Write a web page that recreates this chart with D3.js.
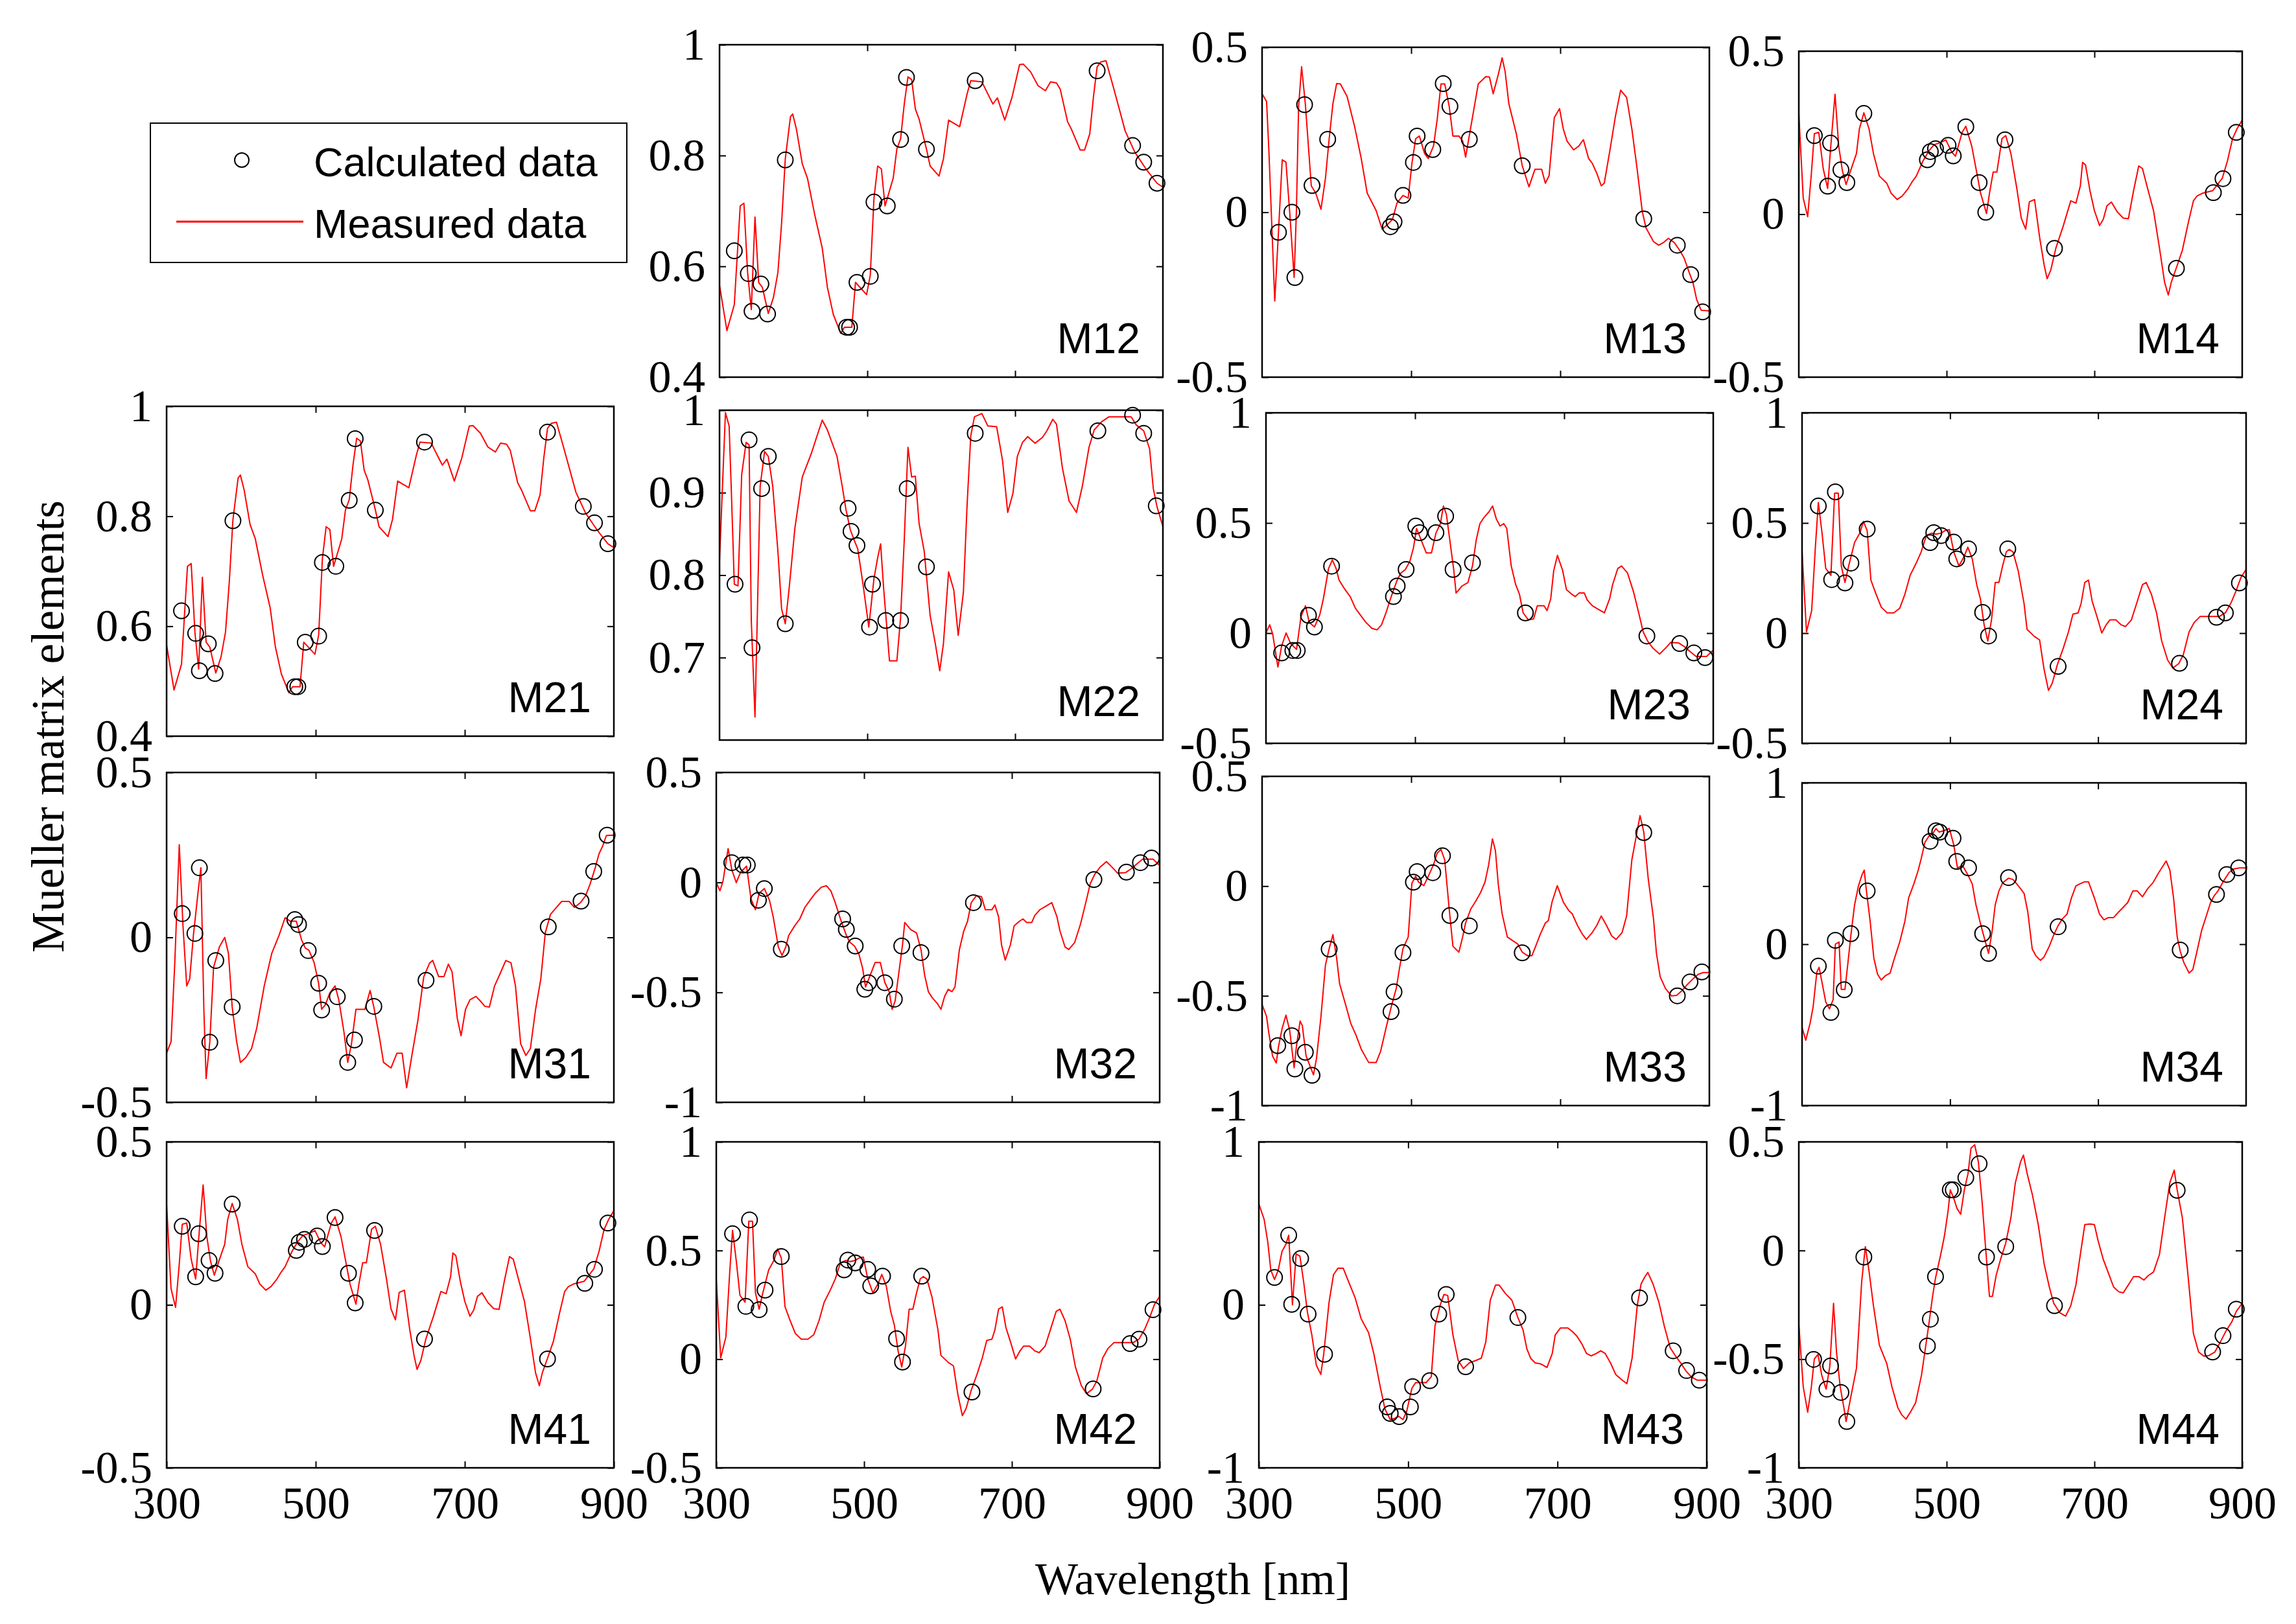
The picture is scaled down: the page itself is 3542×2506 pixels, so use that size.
<!DOCTYPE html>
<html>
<head>
<meta charset="utf-8">
<script src="https://cdn.jsdelivr.net/npm/d3@7"></script>
<style>
html, body { margin: 0; padding: 0; background: #fff; }
svg { display: block; }
</style>
</head>
<body>
<svg id="chart" width="3542" height="2506"></svg>
<script>
// ---- data (wavelength nm, value) ----
const panelNames = ["M12", "M13", "M14", "M21", "M22", "M23", "M24", "M31", "M32", "M33", "M34", "M41", "M42", "M43", "M44"];
const xTickValues = [300, 500, 700, 900];

const yDomains = {
    M12: [0.4, 1], M13: [-0.5, 0.5], M14: [-0.5, 0.5],
    M21: [0.4, 1], M22: [0.6, 1], M23: [-0.5, 1], M24: [-0.5, 1],
    M31: [-0.5, 0.5], M32: [-1, 0.5], M33: [-1, 0.5], M34: [-1, 1],
    M41: [-0.5, 0.5], M42: [-0.5, 1], M43: [-1, 1], M44: [-1, 0.5]
};
const yTickValues = {
    M12: [0.4, 0.6, 0.8, 1], M13: [-0.5, 0, 0.5], M14: [-0.5, 0, 0.5],
    M21: [0.4, 0.6, 0.8, 1], M22: [0.7, 0.8, 0.9, 1], M23: [-0.5, 0, 0.5, 1], M24: [-0.5, 0, 0.5, 1],
    M31: [-0.5, 0, 0.5], M32: [-1, -0.5, 0, 0.5], M33: [-1, -0.5, 0, 0.5], M34: [-1, 0, 1],
    M41: [-0.5, 0, 0.5], M42: [-0.5, 0, 0.5, 1], M43: [-1, 0, 1], M44: [-1, -0.5, 0, 0.5]
};

const m12Line = [[300,0.566],[310,0.484],[320,0.531],[328,0.709],[333,0.714],[338,0.589],[343,0.522],[348,0.689],[353,0.571],[358,0.562],[366,0.515],[373,0.544],[379,0.589],[384,0.678],[389,0.794],[396,0.870],[399,0.875],[404,0.848],[412,0.785],[419,0.759],[429,0.692],[439,0.633],[446,0.562],[454,0.513],[464,0.479],[469,0.490],[479,0.490],[484,0.571],[499,0.549],[504,0.584],[509,0.723],[514,0.781],[519,0.776],[524,0.709],[535,0.759],[540,0.812],[545,0.830],[550,0.893],[555,0.942],[560,0.937],[565,0.884],[570,0.866],[575,0.839],[580,0.812],[585,0.781],[597,0.763],[603,0.794],[610,0.864],[625,0.852],[635,0.911],[640,0.935],[655,0.933],[665,0.906],[670,0.893],[676,0.904],[686,0.864],[696,0.906],[706,0.964],[711,0.965],[721,0.951],[731,0.926],[741,0.917],[748,0.933],[756,0.931],[761,0.920],[771,0.861],[776,0.848],[788,0.810],[794,0.810],[801,0.839],[806,0.906],[811,0.960],[816,0.969],[823,0.971],[832,0.928],[842,0.879],[849,0.844],[862,0.806],[877,0.776],[892,0.750],[900,0.743]];
const m12Calc = [[320,0.628],[339,0.587],[344,0.519],[356,0.568],[365,0.514],[389,0.792],[472,0.490],[476,0.490],[486,0.571],[504,0.582],[509,0.716],[527,0.709],[545,0.829],[553,0.941],[580,0.811],[646,0.935],[811,0.953],[859,0.818],[874,0.788],[892,0.750]];

const m13Line = [[300,0.359],[306,0.336],[309,0.193],[317,-0.269],[322,-0.059],[327,0.159],[332,0.152],[337,0.002],[343,-0.198],[346,0.0],[349,0.321],[353,0.441],[358,0.329],[366,0.080],[372,0.058],[379,0.009],[385,0.103],[390,0.223],[395,0.329],[400,0.390],[405,0.389],[414,0.351],[424,0.261],[433,0.163],[441,0.058],[453,0.005],[461,-0.051],[467,-0.040],[475,-0.021],[481,0.028],[489,0.051],[496,0.043],[501,0.148],[506,0.223],[511,0.231],[518,0.178],[523,0.163],[530,0.201],[535,0.283],[540,0.389],[545,0.389],[551,0.321],[556,0.231],[564,0.231],[569,0.216],[573,0.167],[583,0.298],[590,0.389],[600,0.411],[605,0.410],[610,0.359],[617,0.419],[622,0.468],[626,0.427],[631,0.329],[641,0.238],[649,0.141],[658,0.077],[666,0.130],[675,0.130],[680,0.088],[685,0.111],[692,0.287],[699,0.314],[704,0.253],[709,0.216],[718,0.189],[725,0.201],[731,0.220],[738,0.163],[743,0.148],[749,0.118],[755,0.080],[759,0.088],[767,0.193],[774,0.291],[781,0.370],[789,0.348],[796,0.253],[803,0.133],[810,0.002],[815,-0.047],[825,-0.089],[832,-0.100],[839,-0.091],[845,-0.079],[853,-0.092],[860,-0.115],[866,-0.138],[873,-0.183],[878,-0.213],[883,-0.265],[889,-0.297],[900,-0.299]];
const m13Calc = [[322,-0.061],[340,0.0],[344,-0.198],[357,0.326],[367,0.081],[388,0.221],[472,-0.044],[477,-0.029],[489,0.051],[503,0.151],[508,0.231],[529,0.190],[543,0.390],[552,0.321],[578,0.221],[649,0.141],[812,-0.020],[857,-0.100],[875,-0.189],[891,-0.302]];

const m14Line = [[300,0.308],[306,0.049],[312,-0.008],[317,0.125],[321,0.247],[327,0.251],[333,0.140],[339,0.079],[343,0.201],[349,0.368],[354,0.209],[359,0.133],[364,0.091],[370,0.133],[378,0.186],[382,0.262],[388,0.311],[395,0.262],[401,0.186],[409,0.117],[419,0.095],[425,0.064],[433,0.045],[440,0.056],[448,0.079],[453,0.098],[459,0.117],[468,0.163],[476,0.194],[483,0.213],[492,0.220],[499,0.228],[507,0.190],[512,0.178],[521,0.251],[526,0.270],[534,0.209],[541,0.125],[546,0.064],[554,0.002],[558,0.064],[563,0.129],[568,0.129],[575,0.232],[580,0.241],[587,0.186],[595,0.079],[601,-0.012],[607,-0.046],[612,0.038],[619,0.045],[626,-0.073],[632,-0.156],[636,-0.198],[641,-0.171],[648,-0.103],[658,-0.035],[668,0.041],[675,0.034],[681,0.087],[684,0.159],[688,0.151],[694,0.072],[700,0.011],[707,-0.035],[712,-0.016],[717,0.026],[723,0.037],[731,0.007],[739,-0.012],[746,-0.014],[753,0.072],[760,0.148],[765,0.140],[772,0.079],[780,0.011],[788,-0.103],[795,-0.209],[800,-0.248],[804,-0.209],[811,-0.164],[819,-0.111],[827,-0.027],[834,0.041],[839,0.056],[846,0.064],[853,0.068],[860,0.072],[868,0.095],[873,0.110],[880,0.163],[887,0.232],[893,0.262],[900,0.289]];
const m14Calc = [[321,0.241],[339,0.086],[343,0.218],[357,0.136],[365,0.097],[388,0.309],[474,0.167],[478,0.192],[485,0.201],[502,0.211],[509,0.179],[526,0.268],[544,0.097],[553,0.006],[579,0.228],[646,-0.105],[811,-0.166],[861,0.066],[874,0.109],[892,0.251]];

const m22Line = [[300,0.818],[303,0.885],[308,0.997],[313,0.981],[316,0.902],[320,0.789],[325,0.787],[330,0.922],[336,0.961],[340,0.958],[343,0.745],[348,0.628],[351,0.745],[355,0.908],[361,0.950],[366,0.944],[372,0.908],[379,0.829],[384,0.759],[389,0.741],[394,0.782],[402,0.857],[412,0.919],[424,0.947],[432,0.969],[439,0.988],[446,0.976],[459,0.944],[466,0.908],[471,0.880],[477,0.855],[482,0.843],[487,0.832],[494,0.790],[502,0.737],[509,0.796],[514,0.821],[518,0.838],[522,0.785],[526,0.741],[530,0.696],[540,0.696],[545,0.748],[550,0.843],[555,0.955],[560,0.919],[565,0.920],[570,0.863],[577,0.829],[585,0.751],[592,0.717],[598,0.684],[603,0.717],[610,0.804],[617,0.782],[623,0.727],[630,0.779],[635,0.885],[640,0.969],[645,0.992],[655,0.996],[663,0.981],[675,0.980],[683,0.939],[690,0.876],[697,0.899],[703,0.944],[710,0.961],[717,0.968],[727,0.960],[737,0.967],[743,0.975],[751,0.989],[756,0.983],[764,0.930],[773,0.890],[783,0.876],[791,0.908],[800,0.955],[807,0.976],[817,0.986],[827,0.992],[857,0.992],[864,0.982],[874,0.975],[882,0.953],[887,0.905],[892,0.883],[900,0.859]];
const m22Calc = [[321,0.789],[340,0.964],[344,0.712],[357,0.905],[366,0.944],[389,0.741],[474,0.881],[478,0.853],[486,0.836],[503,0.737],[507,0.789],[525,0.745],[545,0.745],[554,0.905],[580,0.810],[646,0.972],[812,0.975],[859,0.994],[874,0.972],[891,0.884]];

const m23Line = [[300,0.001],[305,0.038],[309,-0.004],[316,-0.154],[321,-0.058],[327,0.001],[333,-0.047],[341,-0.074],[347,0.076],[353,0.124],[358,0.049],[365,0.028],[372,0.081],[377,0.156],[384,0.294],[389,0.332],[394,0.294],[398,0.241],[406,0.198],[413,0.166],[420,0.113],[428,0.076],[434,0.049],[442,0.022],[449,0.015],[455,0.038],[461,0.092],[468,0.166],[476,0.241],[481,0.273],[487,0.289],[493,0.326],[498,0.390],[502,0.475],[507,0.433],[515,0.364],[522,0.364],[528,0.454],[534,0.497],[538,0.577],[542,0.539],[547,0.412],[552,0.284],[555,0.182],[563,0.214],[571,0.230],[577,0.305],[582,0.422],[587,0.497],[592,0.523],[599,0.550],[604,0.577],[609,0.518],[614,0.486],[619,0.497],[623,0.475],[629,0.305],[635,0.220],[640,0.177],[645,0.092],[652,0.060],[659,0.065],[664,0.124],[673,0.124],[677,0.102],[682,0.156],[686,0.284],[691,0.353],[698,0.284],[703,0.198],[710,0.177],[715,0.166],[720,0.182],[727,0.182],[731,0.150],[738,0.124],[746,0.108],[754,0.092],[761,0.156],[765,0.220],[772,0.294],[777,0.305],[785,0.273],[793,0.188],[800,0.092],[806,0.006],[812,-0.036],[819,-0.068],[828,-0.095],[836,-0.068],[843,-0.042],[854,-0.045],[862,-0.063],[869,-0.084],[877,-0.106],[891,-0.106],[900,-0.077]];
const m23Calc = [[321,-0.090],[336,-0.079],[342,-0.079],[357,0.081],[365,0.028],[388,0.304],[471,0.166],[476,0.214],[488,0.289],[501,0.486],[506,0.456],[528,0.456],[541,0.531],[551,0.289],[577,0.319],[648,0.092],[811,-0.013],[855,-0.047],[874,-0.090],[889,-0.111]];

const m24Line = [[300,0.369],[306,0.006],[313,0.102],[318,0.390],[322,0.593],[327,0.454],[332,0.294],[339,0.262],[344,0.635],[349,0.635],[353,0.305],[358,0.230],[363,0.305],[371,0.412],[378,0.454],[383,0.507],[388,0.465],[393,0.241],[400,0.177],[407,0.118],[415,0.092],[424,0.092],[432,0.113],[439,0.177],[446,0.262],[454,0.316],[461,0.369],[468,0.443],[475,0.454],[481,0.449],[488,0.454],[493,0.465],[499,0.470],[505,0.369],[512,0.305],[519,0.348],[524,0.390],[530,0.337],[536,0.220],[541,0.156],[546,0.038],[551,-0.036],[556,0.060],[561,0.230],[566,0.230],[571,0.305],[576,0.369],[580,0.380],[585,0.369],[592,0.284],[600,0.134],[604,0.017],[614,-0.015],[621,-0.031],[627,-0.164],[633,-0.260],[638,-0.228],[645,-0.143],[653,-0.068],[660,0.006],[666,0.086],[673,0.092],[677,0.134],[682,0.230],[687,0.241],[692,0.145],[699,0.070],[705,0.001],[711,0.038],[716,0.060],[724,0.060],[731,0.038],[737,0.030],[745,0.060],[752,0.134],[760,0.220],[765,0.230],[772,0.177],[779,0.092],[786,-0.036],[794,-0.122],[801,-0.159],[809,-0.138],[815,-0.100],[823,0.006],[830,0.049],[838,0.076],[852,0.076],[864,0.076],[872,0.092],[880,0.140],[886,0.188],[893,0.252],[900,0.289]];
const m24Calc = [[322,0.577],[340,0.243],[345,0.641],[358,0.228],[366,0.318],[388,0.472],[473,0.411],[478,0.456],[488,0.443],[505,0.413],[509,0.337],[525,0.382],[544,0.094],[552,-0.013],[578,0.382],[646,-0.151],[810,-0.137],[860,0.072],[872,0.092],[891,0.228]];

const m31Line = [[300,-0.351],[306,-0.316],[311,-0.077],[317,0.281],[322,0.035],[327,-0.147],[331,-0.126],[336,0.007],[342,0.133],[346,0.211],[350,-0.218],[353,-0.428],[358,-0.316],[363,-0.091],[371,-0.028],[378,0.0],[383,-0.049],[388,-0.211],[394,-0.316],[399,-0.379],[406,-0.365],[414,-0.337],[421,-0.274],[431,-0.147],[441,-0.049],[451,0.007],[459,0.060],[466,0.049],[474,0.049],[481,-0.007],[486,-0.032],[491,-0.039],[498,-0.077],[504,-0.140],[508,-0.218],[513,-0.204],[519,-0.168],[526,-0.147],[531,-0.189],[538,-0.288],[543,-0.379],[548,-0.323],[554,-0.218],[566,-0.218],[573,-0.161],[578,-0.211],[586,-0.309],[591,-0.379],[601,-0.396],[609,-0.351],[616,-0.351],[622,-0.456],[629,-0.358],[637,-0.253],[645,-0.119],[653,-0.077],[657,-0.070],[665,-0.119],[672,-0.119],[678,-0.081],[683,-0.105],[690,-0.246],[695,-0.298],[701,-0.218],[707,-0.189],[715,-0.179],[721,-0.193],[727,-0.209],[733,-0.211],[740,-0.147],[747,-0.112],[755,-0.070],[762,-0.077],[768,-0.147],[775,-0.323],[782,-0.358],[788,-0.337],[795,-0.218],[802,-0.126],[808,0.014],[815,0.070],[823,0.091],[830,0.109],[840,0.109],[847,0.091],[855,0.105],[862,0.126],[868,0.161],[875,0.211],[880,0.253],[885,0.277],[890,0.309],[900,0.310]];
const m31Calc = [[321,0.072],[338,0.012],[344,0.211],[358,-0.318],[366,-0.070],[388,-0.211],[472,0.054],[477,0.039],[490,-0.040],[504,-0.139],[508,-0.220],[529,-0.180],[543,-0.379],[552,-0.311],[578,-0.209],[648,-0.130],[812,0.032],[856,0.110],[873,0.200],[891,0.310]];

const m32Line = [[300,-0.001],[305,-0.038],[309,0.004],[316,0.154],[321,0.058],[327,-0.001],[333,0.047],[341,0.074],[347,-0.076],[353,-0.124],[358,-0.049],[365,-0.028],[372,-0.081],[377,-0.156],[384,-0.294],[389,-0.332],[394,-0.294],[398,-0.241],[406,-0.198],[413,-0.166],[420,-0.113],[428,-0.076],[434,-0.049],[442,-0.022],[449,-0.015],[455,-0.038],[461,-0.092],[468,-0.166],[476,-0.241],[481,-0.273],[487,-0.289],[493,-0.326],[498,-0.390],[502,-0.475],[507,-0.433],[515,-0.364],[522,-0.364],[528,-0.454],[534,-0.497],[538,-0.577],[542,-0.539],[547,-0.412],[552,-0.284],[555,-0.182],[563,-0.214],[571,-0.230],[577,-0.305],[582,-0.422],[587,-0.497],[592,-0.523],[599,-0.550],[604,-0.577],[609,-0.518],[614,-0.486],[619,-0.497],[623,-0.475],[629,-0.305],[635,-0.220],[640,-0.177],[645,-0.092],[652,-0.060],[659,-0.065],[664,-0.124],[673,-0.124],[677,-0.102],[682,-0.156],[686,-0.284],[691,-0.353],[698,-0.284],[703,-0.198],[710,-0.177],[715,-0.166],[720,-0.182],[727,-0.182],[731,-0.150],[738,-0.124],[746,-0.108],[754,-0.092],[761,-0.156],[765,-0.220],[772,-0.294],[777,-0.305],[785,-0.273],[793,-0.188],[800,-0.092],[806,-0.006],[812,0.036],[819,0.068],[828,0.095],[836,0.068],[843,0.042],[854,0.045],[862,0.063],[869,0.084],[877,0.106],[891,0.106],[900,0.077]];
const m32Calc = [[321,0.090],[336,0.079],[342,0.079],[357,-0.081],[365,-0.028],[388,-0.304],[471,-0.166],[476,-0.214],[488,-0.289],[501,-0.486],[506,-0.456],[528,-0.456],[541,-0.531],[551,-0.289],[577,-0.319],[648,-0.092],[811,0.013],[855,0.047],[874,0.090],[889,0.111]];

const m33Line = [[300,-0.540],[306,-0.594],[309,-0.668],[314,-0.774],[319,-0.806],[322,-0.732],[327,-0.647],[332,-0.588],[337,-0.657],[343,-0.828],[346,-0.732],[351,-0.615],[354,-0.636],[359,-0.774],[364,-0.817],[369,-0.860],[373,-0.785],[379,-0.594],[385,-0.360],[390,-0.285],[395,-0.221],[400,-0.328],[404,-0.445],[412,-0.540],[419,-0.626],[426,-0.679],[433,-0.743],[443,-0.804],[453,-0.804],[459,-0.753],[467,-0.636],[474,-0.540],[480,-0.466],[484,-0.381],[489,-0.285],[496,-0.232],[501,0.013],[506,0.045],[510,0.018],[517,0.002],[523,0.045],[530,0.098],[535,0.151],[540,0.167],[545,0.119],[551,-0.104],[556,-0.274],[564,-0.301],[569,-0.232],[573,-0.168],[580,-0.104],[586,-0.072],[593,-0.030],[599,0.018],[604,0.098],[609,0.215],[613,0.162],[617,0.002],[622,-0.126],[629,-0.232],[636,-0.248],[643,-0.264],[649,-0.301],[656,-0.317],[662,-0.317],[667,-0.274],[673,-0.221],[680,-0.168],[684,-0.157],[689,-0.072],[696,0.002],[704,-0.072],[711,-0.110],[716,-0.126],[723,-0.179],[730,-0.221],[735,-0.243],[743,-0.211],[749,-0.179],[755,-0.136],[762,-0.179],[769,-0.227],[775,-0.243],[783,-0.211],[789,-0.136],[796,0.119],[803,0.247],[807,0.321],[812,0.247],[818,0.034],[825,-0.147],[829,-0.306],[834,-0.413],[841,-0.466],[849,-0.500],[856,-0.498],[863,-0.477],[870,-0.450],[878,-0.423],[885,-0.402],[892,-0.394],[900,-0.394]];
const m33Calc = [[321,-0.727],[340,-0.682],[344,-0.833],[358,-0.757],[367,-0.862],[390,-0.287],[473,-0.572],[477,-0.482],[489,-0.303],[503,0.018],[508,0.066],[529,0.061],[542,0.138],[552,-0.134],[578,-0.181],[649,-0.304],[812,0.244],[857,-0.500],[874,-0.437],[890,-0.391]];

const m34Line = [[300,-0.516],[305,-0.595],[311,-0.487],[315,-0.387],[320,-0.172],[323,-0.143],[327,-0.237],[332,-0.358],[337,-0.401],[342,-0.344],[345,0.000],[350,0.014],[353,-0.280],[358,-0.280],[362,-0.115],[366,0.057],[371,0.244],[376,0.358],[381,0.430],[384,0.459],[387,0.330],[392,0.143],[397,-0.086],[402,-0.186],[407,-0.222],[413,-0.194],[419,-0.179],[424,-0.100],[432,0.014],[439,0.143],[444,0.287],[451,0.373],[457,0.459],[461,0.530],[466,0.631],[471,0.667],[477,0.688],[481,0.717],[485,0.695],[491,0.703],[499,0.717],[505,0.616],[510,0.473],[517,0.487],[524,0.430],[530,0.373],[535,0.244],[541,0.129],[546,0.043],[552,-0.057],[557,0.086],[561,0.244],[566,0.330],[571,0.380],[579,0.409],[585,0.401],[593,0.358],[600,0.315],[605,0.201],[611,-0.029],[616,-0.072],[622,-0.100],[627,-0.079],[634,-0.014],[640,0.057],[646,0.115],[652,0.158],[658,0.186],[664,0.287],[670,0.361],[675,0.373],[682,0.387],[687,0.387],[695,0.287],[702,0.186],[708,0.151],[714,0.165],[721,0.165],[728,0.201],[734,0.229],[740,0.258],[747,0.330],[753,0.330],[760,0.294],[767,0.344],[774,0.380],[782,0.444],[792,0.516],[797,0.459],[802,0.287],[807,0.043],[811,-0.043],[816,-0.115],[823,-0.179],[828,-0.158],[833,-0.057],[840,0.086],[847,0.186],[852,0.258],[857,0.301],[862,0.330],[869,0.387],[877,0.444],[883,0.466],[891,0.473],[900,0.473]];
const m34Calc = [[322,-0.136],[339,-0.423],[345,0.024],[357,-0.282],[366,0.065],[388,0.330],[473,0.638],[481,0.703],[486,0.695],[504,0.657],[509,0.513],[525,0.473],[544,0.065],[552,-0.057],[579,0.413],[646,0.108],[811,-0.036],[860,0.308],[874,0.432],[890,0.473]];

const m43Line = [[300,0.619],[307,0.526],[312,0.384],[316,0.213],[321,0.156],[326,0.213],[331,0.327],[336,0.370],[340,0.427],[345,0.000],[350,0.313],[355,0.299],[360,0.142],[365,-0.043],[371,-0.185],[377,-0.370],[383,-0.427],[387,-0.299],[394,0.014],[400,0.185],[406,0.225],[413,0.225],[419,0.156],[429,0.043],[437,-0.085],[447,-0.171],[454,-0.299],[463,-0.512],[469,-0.640],[476,-0.704],[482,-0.697],[487,-0.683],[493,-0.704],[498,-0.654],[505,-0.512],[510,-0.477],[524,-0.477],[531,-0.441],[536,-0.128],[543,0.000],[548,0.064],[553,0.057],[560,-0.185],[567,-0.341],[574,-0.391],[582,-0.356],[591,-0.341],[598,-0.327],[604,-0.228],[610,0.028],[617,0.121],[622,0.121],[630,0.071],[639,0.028],[647,-0.078],[654,-0.156],[659,-0.270],[664,-0.327],[670,-0.356],[678,-0.363],[686,-0.384],[693,-0.299],[697,-0.185],[704,-0.142],[714,-0.142],[720,-0.164],[726,-0.192],[733,-0.242],[739,-0.299],[745,-0.313],[752,-0.299],[758,-0.282],[764,-0.299],[771,-0.356],[778,-0.427],[785,-0.455],[793,-0.484],[800,-0.327],[807,0.000],[812,0.128],[817,0.171],[821,0.199],[828,0.128],[836,0.014],[843,-0.128],[851,-0.263],[858,-0.313],[865,-0.356],[872,-0.405],[879,-0.441],[887,-0.462],[900,-0.462]];
const m43Calc = [[321,0.168],[340,0.427],[344,0.003],[356,0.284],[366,-0.057],[388,-0.303],[472,-0.626],[476,-0.666],[488,-0.686],[503,-0.626],[506,-0.502],[529,-0.465],[541,-0.057],[551,0.064],[577,-0.380],[647,-0.078],[810,0.043],[855,-0.282],[873,-0.403],[890,-0.462]];

const m44Line = [[300,-0.339],[306,-0.627],[312,-0.744],[317,-0.627],[321,-0.499],[326,-0.478],[331,-0.574],[337,-0.638],[342,-0.531],[347,-0.243],[351,-0.467],[356,-0.627],[361,-0.723],[364,-0.787],[370,-0.680],[378,-0.542],[385,-0.147],[390,0.018],[395,-0.094],[401,-0.254],[409,-0.435],[419,-0.520],[426,-0.627],[434,-0.723],[439,-0.755],[445,-0.776],[451,-0.744],[458,-0.701],[466,-0.574],[471,-0.456],[476,-0.339],[481,-0.211],[485,-0.126],[492,-0.019],[497,0.066],[502,0.183],[505,0.279],[510,0.237],[514,0.194],[519,0.167],[524,0.279],[529,0.354],[533,0.471],[538,0.487],[543,0.407],[548,0.226],[553,0.002],[558,-0.211],[562,-0.211],[567,-0.115],[573,-0.041],[580,0.034],[587,0.151],[593,0.311],[600,0.407],[604,0.439],[609,0.354],[616,0.258],[624,0.119],[632,-0.062],[639,-0.168],[645,-0.243],[653,-0.286],[661,-0.302],[668,-0.254],[675,-0.158],[680,-0.041],[687,0.119],[694,0.122],[700,0.119],[705,0.045],[712,-0.041],[719,-0.104],[726,-0.168],[733,-0.190],[739,-0.195],[746,-0.158],[753,-0.120],[760,-0.120],[767,-0.136],[773,-0.115],[780,-0.099],[788,-0.019],[795,0.151],[802,0.311],[808,0.370],[812,0.279],[819,0.151],[827,-0.126],[834,-0.382],[841,-0.467],[848,-0.486],[855,-0.483],[863,-0.467],[870,-0.424],[878,-0.371],[886,-0.328],[892,-0.280],[900,-0.243]];
const m44Calc = [[320,-0.501],[338,-0.638],[343,-0.531],[357,-0.653],[365,-0.787],[388,-0.030],[474,-0.439],[478,-0.316],[485,-0.120],[505,0.279],[509,0.279],[526,0.335],[544,0.399],[554,-0.030],[580,0.018],[646,-0.254],[812,0.277],[860,-0.467],[874,-0.392],[892,-0.270]];

// M21, M41 and M42 read the same as M12, M14 and M24 in the picture
const m21Line = m12Line, m21Calc = m12Calc;
const m41Line = m14Line, m41Calc = m14Calc;
const m42Line = m24Line, m42Calc = m24Calc;

const measured = { M12: m12Line, M13: m13Line, M14: m14Line, M21: m21Line, M22: m22Line, M23: m23Line, M24: m24Line,
    M31: m31Line, M32: m32Line, M33: m33Line, M34: m34Line, M41: m41Line, M42: m42Line, M43: m43Line, M44: m44Line };
const calculated = { M12: m12Calc, M13: m13Calc, M14: m14Calc, M21: m21Calc, M22: m22Calc, M23: m23Calc, M24: m24Calc,
    M31: m31Calc, M32: m32Calc, M33: m33Calc, M34: m34Calc, M41: m41Calc, M42: m42Calc, M43: m43Calc, M44: m44Calc };

// ---- layout: panel frames [x0, y0, x1, y1] ----
const panelBoxes = {
    M12: [1110, 69, 1794, 582], M13: [1947, 73, 2637, 582], M14: [2775, 79, 3459, 582],
    M21: [257, 627, 947, 1136], M22: [1110, 633, 1794, 1142], M23: [1953, 637, 2643, 1147], M24: [2780, 637, 3465, 1147],
    M31: [257, 1192, 947, 1701], M32: [1105, 1192, 1789, 1701], M33: [1947, 1198, 2637, 1706], M34: [2780, 1208, 3465, 1706],
    M41: [257, 1762, 947, 2265], M42: [1105, 1762, 1789, 2265], M43: [1942, 1762, 2633, 2265], M44: [2775, 1762, 3459, 2265]
};
const bottomRow = ["M41", "M42", "M43", "M44"];

const SERIF = "'Liberation Serif', 'Times New Roman', serif";
const SANS = "'Liberation Sans', Arial, sans-serif";

const svg = d3.select("#chart");
svg.append("rect").attr("width", 3542).attr("height", 2506).attr("fill", "white");

function styleAxis(g) {
    g.select(".domain").remove();
    g.attr("font-family", SERIF).attr("font-size", 70);
    g.selectAll(".tick line").attr("stroke", "#000").attr("stroke-width", 2);
    g.selectAll(".tick text").attr("fill", "#000");
}

function drawPanel(name) {
    const [x0, y0, x1, y1] = panelBoxes[name];
    const x = d3.scaleLinear().domain([300, 900]).range([x0, x1]);
    const y = d3.scaleLinear().domain(yDomains[name]).range([y1, y0]);
    const g = svg.append("g").attr("class", "panel");

    // left axis with labels, right axis ticks only
    g.append("g")
        .attr("transform", `translate(${x0},0)`)
        .call(d3.axisLeft(y).tickValues(yTickValues[name]).tickSize(-10).tickPadding(22).tickFormat(d => String(d)))
        .call(styleAxis);
    g.append("g")
        .attr("transform", `translate(${x1},0)`)
        .call(d3.axisRight(y).tickValues(yTickValues[name]).tickSize(-10).tickFormat(""))
        .call(styleAxis);

    // top / bottom ticks
    g.append("g")
        .attr("transform", `translate(0,${y0})`)
        .call(d3.axisTop(x).tickValues([500, 700]).tickSize(-10).tickFormat(""))
        .call(styleAxis);
    const isBottom = bottomRow.includes(name);
    g.append("g")
        .attr("transform", `translate(0,${y1})`)
        .call(d3.axisBottom(x).tickValues(isBottom ? xTickValues : [500, 700]).tickSize(-10).tickPadding(28)
            .tickFormat(isBottom ? (d => String(d)) : ""))
        .call(styleAxis);

    // measured data
    const line = d3.line().x(d => x(d[0])).y(d => y(d[1]));
    g.append("path")
        .datum(measured[name])
        .attr("d", line)
        .attr("fill", "none")
        .attr("stroke", "#ff0000")
        .attr("stroke-width", 2)
        .attr("stroke-linejoin", "round");

    // calculated data
    g.selectAll("circle.calc")
        .data(calculated[name])
        .join("circle")
        .attr("class", "calc")
        .attr("cx", d => x(d[0]))
        .attr("cy", d => y(d[1]))
        .attr("r", 12)
        .attr("fill", "none")
        .attr("stroke", "#000")
        .attr("stroke-width", 2);

    // frame
    g.append("rect")
        .attr("x", x0).attr("y", y0)
        .attr("width", x1 - x0).attr("height", y1 - y0)
        .attr("fill", "none")
        .attr("stroke", "#000")
        .attr("stroke-width", 2.5);

    // element name
    g.append("text")
        .attr("x", x1 - 35)
        .attr("y", y1 - 37)
        .attr("text-anchor", "end")
        .attr("font-family", SANS)
        .attr("font-size", 66)
        .text(name);
}

panelNames.forEach(drawPanel);

// legend
const legend = svg.append("g").attr("class", "legend");
legend.append("rect")
    .attr("x", 232).attr("y", 190).attr("width", 735).attr("height", 215)
    .attr("fill", "white").attr("stroke", "#000").attr("stroke-width", 2);
legend.append("circle")
    .attr("cx", 373).attr("cy", 247).attr("r", 11)
    .attr("fill", "none").attr("stroke", "#000").attr("stroke-width", 2);
legend.append("text")
    .attr("x", 484).attr("y", 272)
    .attr("font-family", SANS).attr("font-size", 63)
    .text("Calculated data");
legend.append("line")
    .attr("x1", 272).attr("x2", 468).attr("y1", 342).attr("y2", 342)
    .attr("stroke", "#ff0000").attr("stroke-width", 3);
legend.append("text")
    .attr("x", 484).attr("y", 367)
    .attr("font-family", SANS).attr("font-size", 63)
    .text("Measured data");

// axis titles
svg.append("text")
    .attr("transform", "translate(98,1121) rotate(-90)")
    .attr("text-anchor", "middle")
    .attr("font-family", SERIF)
    .attr("font-size", 71)
    .text("Mueller matrix elements");
svg.append("text")
    .attr("x", 1840).attr("y", 2460)
    .attr("text-anchor", "middle")
    .attr("font-family", SERIF)
    .attr("font-size", 70)
    .text("Wavelength [nm]");
</script>
</body>
</html>
